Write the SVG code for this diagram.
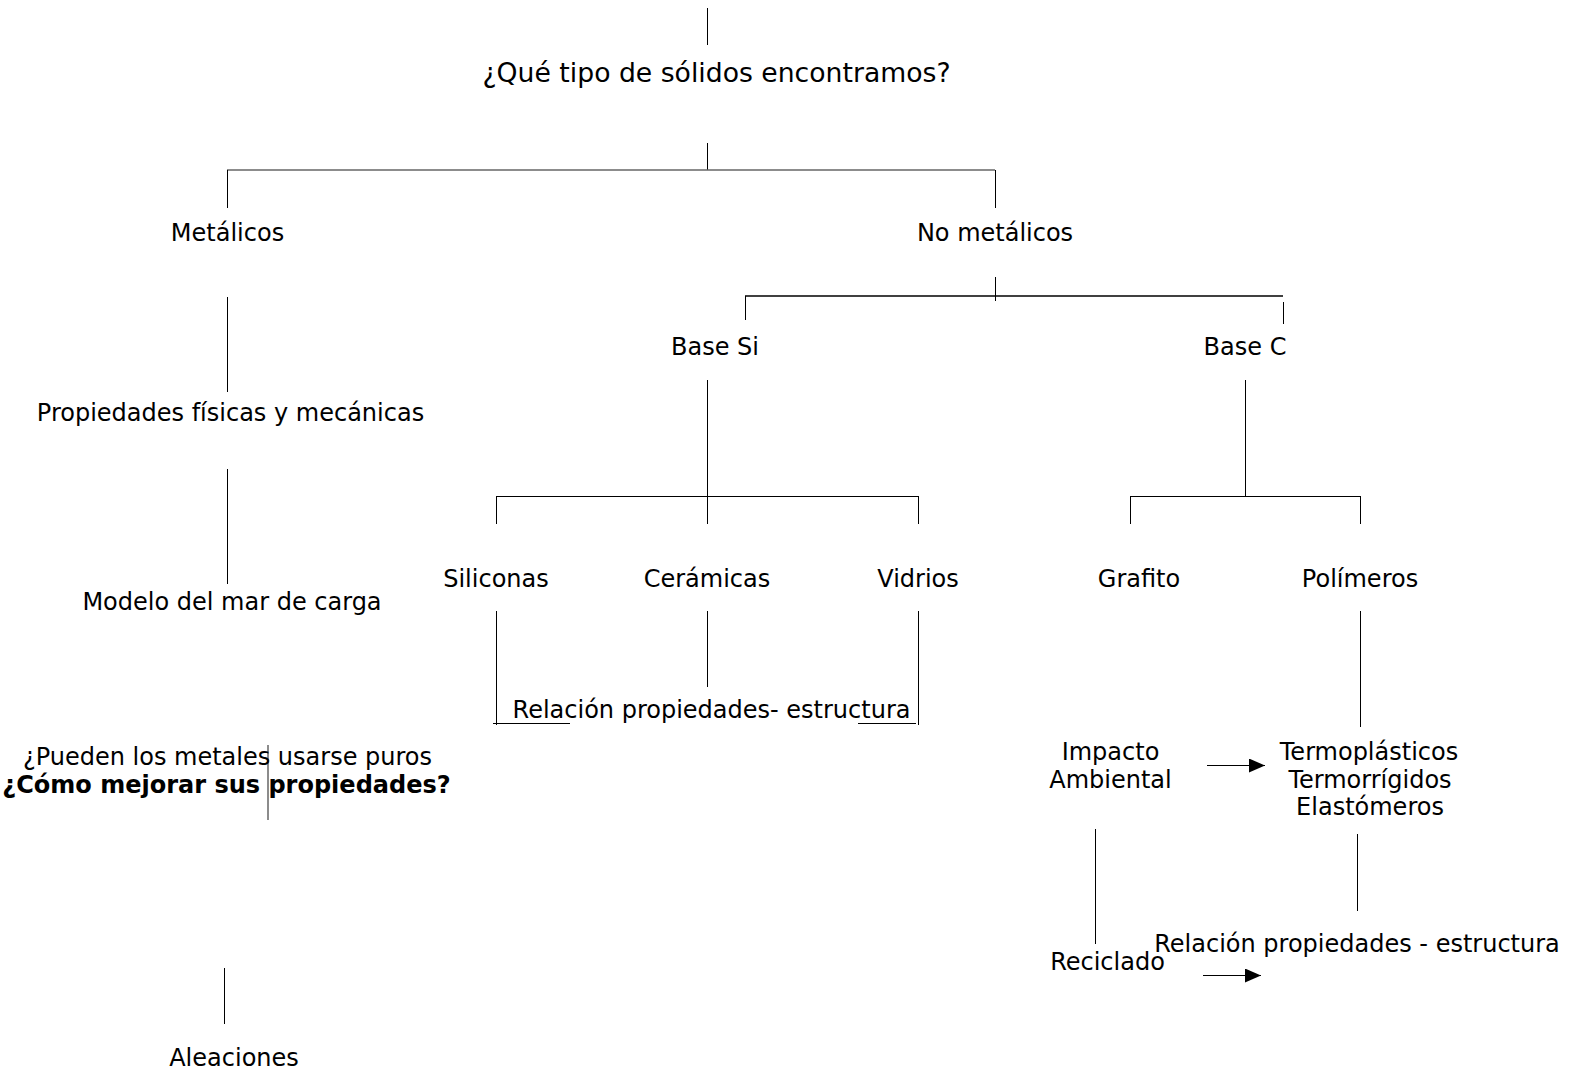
<svg xmlns="http://www.w3.org/2000/svg" width="1578" height="1070" viewBox="0 0 1578 1070">
<style>
text{font-family:"DejaVu Sans","Liberation Sans",sans-serif;font-size:24px;fill:#000;text-anchor:middle}
.b{font-weight:bold}
.t{font-size:26.67px}
line{stroke:#000;stroke-width:1}
.g{stroke:#666;stroke-width:1.5}
</style>
<defs>
<marker id="ah" markerWidth="16" markerHeight="14" refX="16" refY="7" orient="auto" markerUnits="userSpaceOnUse">
<path d="M0,0 L16,7 L0,14 Z" fill="#000"/>
</marker>
</defs>
<rect width="1578" height="1070" fill="#fff"/>
<g id="connectors">
<line x1="707.5" y1="8" x2="707.5" y2="45"/>
<line x1="707.5" y1="143" x2="707.5" y2="170"/>
<line class="g" x1="227" y1="170" x2="995" y2="170"/>
<line x1="227.5" y1="170" x2="227.5" y2="208"/>
<line x1="995.5" y1="170" x2="995.5" y2="208"/>
<line x1="995.5" y1="277" x2="995.5" y2="301"/>
<line x1="745" y1="296" x2="1283" y2="296" style="stroke-width:1.5"/>
<line x1="745.5" y1="296" x2="745.5" y2="320"/>
<line x1="1283.5" y1="302" x2="1283.5" y2="324"/>
<line x1="707.5" y1="380" x2="707.5" y2="496"/>
<line x1="496" y1="496.5" x2="918" y2="496.5"/>
<line x1="496.5" y1="496" x2="496.5" y2="524"/>
<line x1="707.5" y1="496" x2="707.5" y2="524"/>
<line x1="918.5" y1="496" x2="918.5" y2="524"/>
<line x1="1245.5" y1="380" x2="1245.5" y2="496"/>
<line x1="1130" y1="496.5" x2="1360" y2="496.5"/>
<line x1="1130.5" y1="496" x2="1130.5" y2="524"/>
<line x1="1360.5" y1="496" x2="1360.5" y2="524"/>
<line x1="496.5" y1="611" x2="496.5" y2="725"/>
<line x1="707.5" y1="611" x2="707.5" y2="687"/>
<line x1="918.5" y1="611" x2="918.5" y2="725"/>
<line x1="493" y1="723.5" x2="570" y2="723.5"/>
<line x1="858" y1="723.5" x2="916" y2="723.5"/>
<line x1="1360.5" y1="611" x2="1360.5" y2="727"/>
<line x1="1207" y1="765.5" x2="1265" y2="765.5" marker-end="url(#ah)"/>
<line x1="1357.5" y1="834" x2="1357.5" y2="911"/>
<line x1="1095.5" y1="829" x2="1095.5" y2="944"/>
<line x1="1203" y1="975.5" x2="1261" y2="975.5" marker-end="url(#ah)"/>
<line x1="227.5" y1="297" x2="227.5" y2="392"/>
<line x1="227.5" y1="469" x2="227.5" y2="584"/>
<line class="g" x1="268" y1="745" x2="268" y2="820"/>
<line x1="224.5" y1="968" x2="224.5" y2="1024"/>
</g>
<g id="n-root"><text class="t" x="716.5" y="82">¿Qué tipo de sólidos encontramos?</text></g>
<g id="n-metalicos"><text x="227.5" y="241">Metálicos</text></g>
<g id="n-nometalicos"><text x="995" y="241">No metálicos</text></g>
<g id="n-basesi"><text x="715" y="355">Base Si</text></g>
<g id="n-basec"><text x="1245" y="355">Base C</text></g>
<g id="n-siliconas"><text x="496" y="587">Siliconas</text></g>
<g id="n-ceramicas"><text x="707" y="587">Cerámicas</text></g>
<g id="n-vidrios"><text x="918" y="587">Vidrios</text></g>
<g id="n-grafito"><text x="1139" y="587">Grafito</text></g>
<g id="n-polimeros"><text x="1360" y="587">Polímeros</text></g>
<g id="n-relacion1"><text x="711.5" y="718">Relación propiedades- estructura</text></g>
<g id="n-impacto"><text x="1110.5" y="760">Impacto</text><text x="1110.5" y="788">Ambiental</text></g>
<g id="n-tipos"><text x="1369" y="760">Termoplásticos</text><text x="1370" y="788">Termorrígidos</text><text x="1370" y="815">Elastómeros</text></g>
<g id="n-relacion2"><text x="1357" y="952">Relación propiedades - estructura</text></g>
<g id="n-reciclado"><text x="1107.5" y="970">Reciclado</text></g>
<g id="n-propiedades"><text x="230.5" y="421">Propiedades físicas y mecánicas</text></g>
<g id="n-modelo"><text x="232" y="610">Modelo del mar de carga</text></g>
<g id="n-pregunta"><text x="227.5" y="765">¿Pueden los metales usarse puros</text><text class="b" x="226.5" y="793">¿Cómo mejorar sus propiedades?</text></g>
<g id="n-aleaciones"><text x="234" y="1066">Aleaciones</text></g>
</svg>
